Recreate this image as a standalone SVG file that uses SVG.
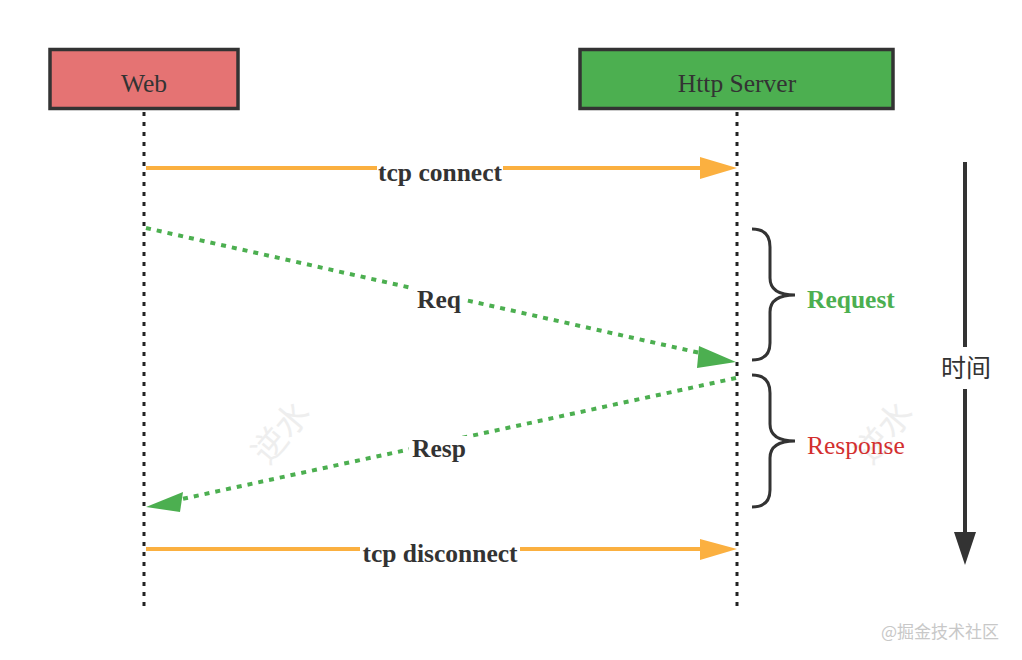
<svg xmlns="http://www.w3.org/2000/svg" width="1022" height="660" viewBox="0 0 1022 660">
<style>
.box{stroke:#333;stroke-width:3.5}
.nt{font-family:"Liberation Serif","Times New Roman",serif;font-size:25.5px;fill:#333;text-anchor:middle}
.life{stroke:#222;stroke-width:3;stroke-dasharray:4 6;fill:none}
.tcp{stroke:#FBB040;stroke-width:4;fill:none}
.dash{stroke:#4CAF50;stroke-width:4;stroke-dasharray:5 6;fill:none}
.lbl{font-family:"Liberation Serif","Times New Roman",serif;font-size:25.5px;font-weight:bold;fill:#333;text-anchor:middle}
.brace{stroke:#333;stroke-width:3;fill:none}
.wm{font-family:"Noto Sans CJK SC",sans-serif;font-size:34px;fill:#eeeeee;text-anchor:middle}
</style>
<rect width="1022" height="660" fill="#fff"/>
<g id="watermarks">
<text class="wm" transform="translate(290,440) rotate(-50)">逆水</text>
<text class="wm" transform="translate(893,440) rotate(-50)">逆水</text>
</g>
<g id="lifelines">
<line class="life" x1="144" y1="112" x2="144" y2="606"/>
<line class="life" x1="737" y1="112" x2="737" y2="606"/>
</g>
<g id="web">
<rect class="box" x="50" y="49.5" width="188" height="59" fill="#E57373"/>
<text class="nt" x="144" y="92">Web</text>
</g>
<g id="http-server">
<rect class="box" x="580" y="49.5" width="313" height="59" fill="#4CAF50"/>
<text class="nt" x="737" y="92">Http Server</text>
</g>
<g id="connectors">
<line class="tcp" x1="146" y1="168" x2="702" y2="168"/>
<path d="M700,157 L737,168 L700,179 z" fill="#FBB040"/>
<rect x="377" y="156" width="126" height="28" fill="#fff"/>
<text class="lbl" x="440" y="181">tcp connect</text>

<line class="dash" x1="146" y1="228" x2="700" y2="353"/>
<path d="M699,346 L736,362 L697,368 z" fill="#4CAF50"/>
<rect x="414" y="286" width="50" height="28" fill="#fff"/>
<text class="lbl" x="439" y="308">Req</text>

<line class="dash" x1="736" y1="378" x2="182" y2="499"/>
<path d="M183,492 L146,507 L180,512 z" fill="#4CAF50"/>
<rect x="409" y="436" width="60" height="28" fill="#fff"/>
<text class="lbl" x="439" y="457">Resp</text>

<line class="tcp" x1="146" y1="549" x2="702" y2="549"/>
<path d="M700,539 L737,549 L700,560 z" fill="#FBB040"/>
<rect x="360" y="538" width="160" height="28" fill="#fff"/>
<text class="lbl" x="440" y="562">tcp disconnect</text>
</g>
<g id="request-brace">
<path class="brace" d="M752,229 Q770,229 770,247 L770,278 Q770,295 795,295 Q770,295 770,312 L770,343 Q770,360 752,360"/>
<text x="807" y="308" font-family="Liberation Serif,Times New Roman,serif" font-size="25.5" font-weight="bold" fill="#4CAF50">Request</text>
</g>
<g id="response-brace">
<path class="brace" d="M752,375 Q770,375 770,393 L770,424 Q770,441 795,441 Q770,441 770,458 L770,490 Q770,507 752,507"/>
<text x="807" y="454" font-family="Liberation Serif,Times New Roman,serif" font-size="25.5" fill="#D32F2F">Response</text>
</g>
<g id="time-axis">
<line x1="965" y1="162" x2="965" y2="347" stroke="#333" stroke-width="4"/>
<line x1="965" y1="389" x2="965" y2="535" stroke="#333" stroke-width="4"/>
<path d="M954,532 L976,532 L965,565 z" fill="#333"/>
<text x="966" y="377" font-family="Noto Sans CJK SC,sans-serif" font-size="25" fill="#333" text-anchor="middle">时间</text>
</g>
<text x="940" y="638" font-family="Noto Sans CJK SC,sans-serif" font-size="17" fill="#c8c8c8" text-anchor="middle">@掘金技术社区</text>
</svg>
